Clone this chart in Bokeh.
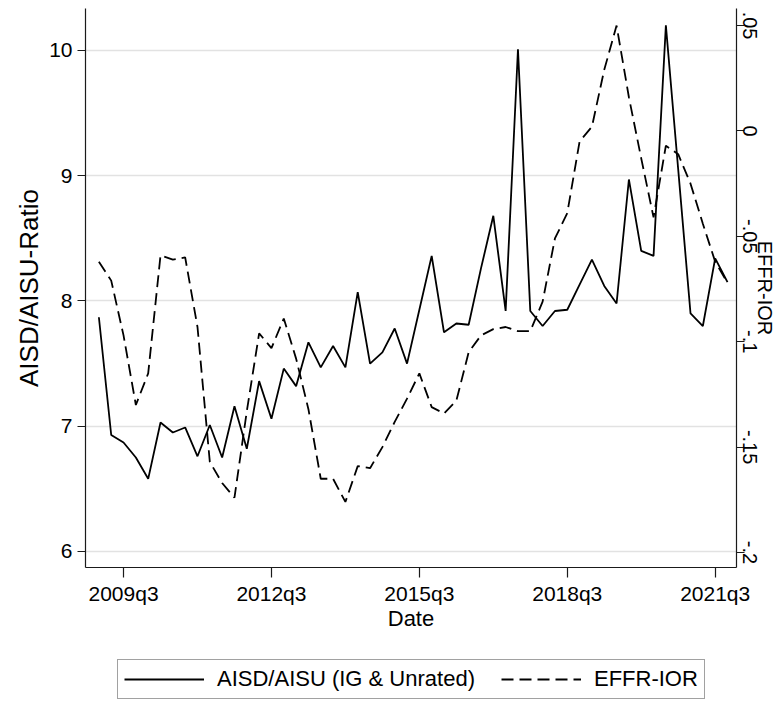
from bokeh.plotting import figure
from bokeh.layouts import column
from bokeh.models import (Range1d, LinearAxis, FixedTicker, CustomJSTickFormatter,
                          Legend, LegendItem, ColumnDataSource)
from bokeh.embed import file_html
from bokeh.resources import INLINE

# ---------------- data ----------------
quarters = [f"{y}q{q}" for y in range(2009, 2022) for q in range(1, 5)]

aisd_aisu = [7.87, 6.93, 6.87, 6.75, 6.58, 7.03, 6.95, 6.99, 6.76, 7.01,
             6.75, 7.16, 6.82, 7.36, 7.06, 7.46, 7.32, 7.67, 7.47, 7.64,
             7.47, 8.07, 7.50, 7.59, 7.78, 7.50, 7.93, 8.36, 7.75, 7.82,
             7.81, 8.26, 8.68, 7.92, 10.01, 7.92, 7.80, 7.92, 7.93, 8.13,
             8.33, 8.12, 7.98, 8.97, 8.40, 8.36, 10.20, 9.05, 7.90, 7.80,
             8.34, 8.15]

effr_ior = [-0.062, -0.071, -0.097, -0.130, -0.115, -0.059, -0.061, -0.060, -0.093, -0.157,
            -0.167, -0.174, -0.133, -0.096, -0.103, -0.089, -0.108, -0.132, -0.165, -0.165,
            -0.176, -0.159, -0.160, -0.150, -0.138, -0.127, -0.115, -0.131, -0.134, -0.128,
            -0.105, -0.097, -0.094, -0.093, -0.095, -0.095, -0.081, -0.051, -0.039, -0.005,
            0.002, 0.029, 0.050, 0.016, -0.013, -0.041, -0.007, -0.011, -0.025, -0.044,
            -0.062, -0.072]

x_tick_labels = ["2009q3", "2012q3", "2015q3", "2018q3", "2021q3"]
left_ticks = [6, 7, 8, 9, 10]
right_ticks = [-0.2, -0.15, -0.1, -0.05, 0.0, 0.05]

series_names = ["AISD/AISU (IG & Unrated)", "EFFR-IOR"]
x_title = "Date"
left_title = "AISD/AISU-Ratio"
right_title = "EFFR-IOR"

# ---------------- main figure ----------------
idx = list(range(len(quarters)))
src = ColumnDataSource(dict(x=idx, q=quarters, ratio=aisd_aisu, spread=effr_ior))

FONT = "Liberation Sans"
axis_col = "#1a1a1a"

p = figure(width=782, height=640, output_backend="svg", toolbar_location=None, tools="",
           x_range=Range1d(-1.086, 51.73), y_range=Range1d(5.872, 10.335),
           min_border_left=85, min_border_right=46, min_border_top=8, min_border_bottom=73,
           background_fill_color="white", border_fill_color="white",
           outline_line_color=None)
p.extra_y_ranges = {"effr": Range1d(-0.2071, 0.0581)}

p.xgrid.visible = False
p.ygrid.ticker = FixedTicker(ticks=left_ticks)
p.ygrid.grid_line_color = "#e2e2e2"
p.ygrid.grid_line_width = 1.3


def style_axis(ax, tick_out):
    ax.major_tick_out = tick_out
    ax.major_tick_in = 0
    ax.minor_tick_out = 0
    ax.minor_tick_in = 0
    ax.axis_line_color = axis_col
    ax.axis_line_width = 1.2
    ax.major_tick_line_color = axis_col
    ax.major_tick_line_width = 1.2
    ax.major_label_text_color = "black"
    ax.axis_label_text_color = "black"
    ax.axis_label_text_font_style = "normal"
    ax.major_label_text_font = FONT
    ax.axis_label_text_font = FONT


# x axis
xa = p.xaxis[0]
style_axis(xa, 10)
xa.ticker = FixedTicker(ticks=[quarters.index(t) for t in x_tick_labels], minor_ticks=[])
xa.formatter = CustomJSTickFormatter(args=dict(labels=quarters),
                                     code="return labels[Math.round(tick)];")
xa.axis_label = x_title
xa.axis_label_text_font_size = "22px"
xa.axis_label_standoff = -2
xa.major_label_text_font_size = "21px"
xa.major_label_standoff = 4

# left axis
ya = p.yaxis[0]
style_axis(ya, 8)
ya.ticker = FixedTicker(ticks=left_ticks, minor_ticks=[])
ya.axis_label = left_title
ya.axis_label_text_font_size = "26px"
ya.axis_label_standoff = 2
ya.major_label_text_font_size = "21px"
ya.major_label_standoff = 5

# right axis
ra = LinearAxis(y_range_name="effr",
                ticker=FixedTicker(ticks=right_ticks, minor_ticks=[]),
                formatter=CustomJSTickFormatter(code="""
let s = String(Math.round(tick*1000)/1000);
if (s.startsWith("0.")) s = s.slice(1);
else if (s.startsWith("-0.")) s = "-" + s.slice(2);
return s;"""))
style_axis(ra, 8)
ra.major_label_orientation = "parallel"
ra.major_label_text_font_size = "20px"
ra.major_label_standoff = -2
ra.axis_label = right_title
ra.axis_label_text_font_size = "20px"
ra.axis_label_standoff = -6
p.add_layout(ra, "right")

# lines
r1 = p.line("x", "ratio", source=src, line_color="black", line_width=1.8)
r2 = p.line("x", "spread", source=src, y_range_name="effr", line_color="black",
            line_width=1.8, line_dash="12 6")

# ---------------- legend strip ----------------
# same series drawn with the same styles; the strip's y range keeps them out of view,
# only their legend keys show.
leg = figure(width=782, height=61, output_backend="svg", toolbar_location=None, tools="",
             x_range=Range1d(-1.086, 51.73), y_range=Range1d(-20, -19), min_border=0,
             background_fill_color="white", border_fill_color="white",
             outline_line_color=None)
leg.axis.visible = False
leg.grid.visible = False
k1 = leg.line("x", "ratio", source=src, line_color="black", line_width=1.8)
k2 = leg.line("x", "spread", source=src, line_color="black", line_width=1.8,
              line_dash="12 6")

legend = Legend(items=[LegendItem(label=series_names[0], renderers=[k1]),
                       LegendItem(label=series_names[1], renderers=[k2])],
                orientation="horizontal", location=(32, 2),
                label_text_font=FONT, label_text_font_size="22px",
                label_text_color="black", label_standoff=13,
                glyph_width=80, glyph_height=20, spacing=26, padding=6, margin=0,
                border_line_color="#444444", border_line_width=1,
                background_fill_color="white", background_fill_alpha=1.0)
leg.add_layout(legend, "center")

layout = column(p, leg, spacing=0)
open("out.html", "w").write(file_html(layout, INLINE))
